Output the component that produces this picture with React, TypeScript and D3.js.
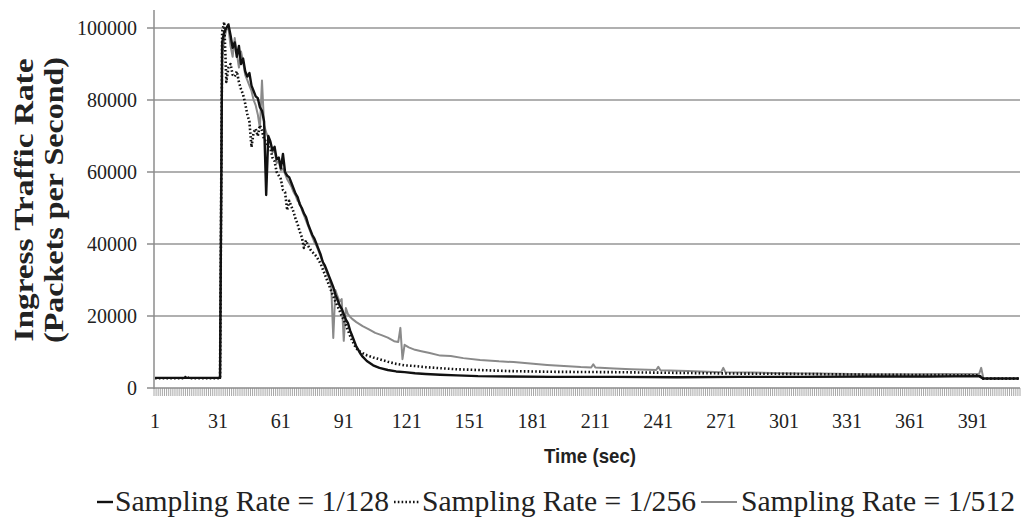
import React from "react";
import * as d3 from "d3";

// seconds (category index) and packets per second
const t128 = [1, 16, 32, 33, 34, 35, 36, 37, 38, 39, 40, 41, 42, 43, 44, 45, 46, 47, 48, 49, 50, 51, 52, 53, 54, 55, 56, 57, 58, 59, 60, 61, 62, 63, 64, 65, 66, 67, 68, 69, 70, 71, 72, 73, 74, 75, 76, 77, 78, 79, 80, 81, 82, 83, 84, 85, 86, 87, 88, 89, 90, 91, 92, 93, 94, 95, 96, 97, 98, 99, 100, 102, 105, 108, 112, 116, 120, 125, 130, 137, 145, 155, 170, 190, 220, 250, 280, 310, 340, 370, 394, 396, 413];
const v128 = [2800, 2800, 2800, 96000, 99000, 100000, 101000, 98000, 94500, 96000, 92000, 95000, 90000, 91500, 88000, 86500, 87500, 84000, 82500, 81000, 80500, 78000, 77000, 74000, 53600, 70000, 68500, 66000, 67000, 63500, 64000, 61000, 65000, 60000, 59000, 58500, 57000, 55500, 54000, 53000, 51000, 50000, 48500, 47500, 45500, 44000, 42500, 41500, 40000, 38500, 37000, 35000, 34000, 32500, 31000, 29500, 28000, 26000, 24500, 23000, 22000, 20500, 19000, 18000, 16000, 14500, 13000, 11500, 10500, 9500, 8700, 7500, 6300, 5600, 5000, 4600, 4400, 4100, 3900, 3700, 3500, 3300, 3200, 3100, 3100, 3000, 3100, 3100, 3200, 3200, 3300, 2600, 2600];

const t256 = [1, 15, 16, 17, 32, 33, 34, 35, 36, 37, 38, 39, 40, 41, 42, 43, 44, 45, 46, 47, 48, 49, 50, 51, 52, 53, 54, 55, 56, 57, 58, 59, 60, 61, 62, 63, 64, 65, 66, 67, 68, 69, 70, 71, 72, 73, 74, 75, 76, 77, 78, 79, 80, 81, 82, 83, 84, 85, 86, 87, 88, 89, 90, 91, 92, 93, 94, 95, 96, 97, 98, 100, 102, 105, 108, 112, 116, 120, 125, 130, 137, 145, 155, 170, 190, 220, 250, 280, 310, 340, 370, 394, 396, 413];
const v256 = [2700, 2700, 3400, 2700, 2700, 99000, 101700, 85000, 89000, 90000, 87000, 86500, 88000, 85000, 83000, 81500, 79000, 76000, 74000, 66900, 71000, 72000, 70000, 73000, 71500, 69000, 68500, 67000, 66500, 64000, 63000, 60000, 59000, 58000, 55000, 54400, 49400, 52000, 50500, 49000, 47000, 45500, 43500, 41900, 38900, 41000, 39500, 38500, 37800, 37200, 36500, 35500, 34500, 33000, 31500, 30000, 28500, 27000, 25500, 24000, 22800, 21500, 20000, 19000, 17500, 16000, 14500, 13200, 12000, 11000, 10400, 9700, 9100, 8500, 8000, 7300, 6700, 6300, 6100, 5800, 5500, 5200, 5000, 4700, 4500, 4400, 4200, 4000, 3900, 3700, 3600, 3500, 2600, 2600];

const t512 = [1, 32, 33, 34, 35, 36, 37, 38, 39, 40, 41, 42, 43, 44, 45, 46, 47, 48, 49, 50, 51, 52, 53, 54, 55, 56, 57, 58, 59, 60, 61, 62, 63, 64, 65, 66, 67, 68, 69, 70, 71, 72, 73, 74, 75, 76, 77, 78, 79, 80, 81, 82, 83, 84, 85, 86, 87, 88, 89, 90, 91, 92, 93, 94, 95, 97, 100, 103, 106, 109, 112, 115, 117, 118, 119, 120, 122, 125, 128, 132, 137, 142, 148, 156, 165, 172, 180, 188, 196, 204, 209, 210, 211, 220, 228, 240, 241, 242, 255, 271, 272, 273, 286, 300, 318, 340, 360, 380, 394, 395, 396, 413];
const v512 = [2800, 2800, 92000, 97000, 99500, 100000, 95000, 92000, 97200, 93000, 89000, 93500, 90500, 87000, 85500, 84000, 82500, 80000, 78500, 76000, 72200, 85400, 73000, 71000, 69500, 68000, 65500, 66000, 62500, 63000, 60500, 61000, 59500, 58000, 57000, 56000, 54500, 53500, 52000, 51500, 49500, 48000, 46500, 45000, 43500, 42000, 40500, 39500, 38000, 36500, 35000, 33500, 32000, 30500, 28500, 13900, 27200, 25500, 24000, 24700, 13100, 22200, 20500, 19800, 19200, 18300, 17200, 16300, 15300, 14700, 14000, 13000, 12800, 16700, 8000, 12000, 11300, 10600, 10200, 9700, 9000, 8900, 8300, 7800, 7400, 7200, 6800, 6400, 6100, 5800, 5700, 6600, 5700, 5400, 5200, 5000, 5900, 4900, 4700, 4400, 5600, 4400, 4300, 4100, 4000, 3800, 3800, 3900, 3900, 5600, 2800, 2800];

const nCategories = 413;
const yTicks = [0, 20000, 40000, 60000, 80000, 100000];
const xTickLabels = [1, 31, 61, 91, 121, 151, 181, 211, 241, 271, 301, 331, 361, 391];
const legendLabels = ["Sampling Rate = 1/128", "Sampling Rate = 1/256", "Sampling Rate = 1/512"];

const serif = "'Liberation Serif', 'Times New Roman', serif";

export default function App() {
  const x = d3.scaleLinear().domain([0.5, nCategories + 0.5]).range([154, 1020]);
  const y = d3.scaleLinear().domain([0, 105000]).range([388, 10]);

  const makePath = (ts: number[], vs: number[]) =>
    d3
      .line<number>()
      .x((d) => x(d))
      .y((d, i) => y(vs[i]))(ts) as string;

  const series = [
    { t: t512, v: v512, color: "#8a8a8a", width: 2, dash: "none" },
    { t: t256, v: v256, color: "#111", width: 2.6, dash: "1.6 2.2" },
    { t: t128, v: v128, color: "#111", width: 2.4, dash: "none" },
  ];

  const boundaries = d3.range(0, nCategories + 1).map((i) => i + 0.5);

  // legend: [line x0, line x1, text x, text length]
  const legendPos = [
    [97, 113, 115, 274],
    [394, 419, 422, 274],
    [701, 737, 741, 274],
  ];
  const legendStyle = [
    { color: "#111", width: 2.4, dash: "none" },
    { color: "#111", width: 2.4, dash: "1.6 2.2" },
    { color: "#8a8a8a", width: 2, dash: "none" },
  ];

  return (
    <svg width={1026} height={520} style={{ position: "absolute", left: 0, top: 0, background: "#fff" }}>
      {/* gridlines */}
      {yTicks.slice(1).map((v) => (
        <line key={v} x1={154} x2={1020} y1={y(v)} y2={y(v)} stroke="#b0b0b0" strokeWidth={2} />
      ))}
      {/* dense category ticks */}
      {boundaries.map((b) => (
        <line key={b} x1={x(b)} x2={x(b)} y1={388} y2={396} stroke="#a8a8a8" strokeWidth={1} />
      ))}
      {/* axes */}
      <line x1={154} x2={154} y1={10} y2={389} stroke="#8c8c8c" strokeWidth={1.5} />
      <line x1={154} x2={1020} y1={388} y2={388} stroke="#8c8c8c" strokeWidth={1.5} />
      {yTicks.map((v) => (
        <g key={v}>
          <line x1={147} x2={154} y1={y(v)} y2={y(v)} stroke="#8c8c8c" strokeWidth={1.5} />
          <text x={137} y={y(v)} dy="0.35em" textAnchor="end" fontFamily={serif} fontSize={20} fill="#222">
            {v}
          </text>
        </g>
      ))}
      {xTickLabels.map((c) => (
        <text key={c} x={x(c)} y={428} textAnchor="middle" fontFamily={serif} fontSize={20} fill="#222">
          {c}
        </text>
      ))}

      {/* series */}
      {series.map((s, i) => (
        <path
          key={i}
          d={makePath(s.t, s.v)}
          fill="none"
          stroke={s.color}
          strokeWidth={s.width}
          strokeDasharray={s.dash}
          strokeLinejoin="round"
        />
      ))}

      {/* axis titles */}
      <text
        x={590}
        y={463}
        textAnchor="middle"
        fontFamily="'Liberation Sans Narrow', 'Liberation Sans', Arial, sans-serif"
        fontWeight="bold"
        fontSize={21}
        fill="#222"
        textLength={92}
        lengthAdjust="spacingAndGlyphs"
      >
        Time (sec)
      </text>
      <g transform="translate(33,200) rotate(-90)">
        <text textAnchor="middle" fontFamily={serif} fontWeight="bold" fontSize={27} fill="#222" textLength={283} lengthAdjust="spacingAndGlyphs">
          Ingress Traffic Rate
        </text>
      </g>
      <g transform="translate(63,200) rotate(-90)">
        <text textAnchor="middle" fontFamily={serif} fontWeight="bold" fontSize={27} fill="#222" textLength={286} lengthAdjust="spacingAndGlyphs">
          (Packets per Second)
        </text>
      </g>

      {/* legend */}
      {legendLabels.map((label, i) => (
        <g key={label}>
          <line
            x1={legendPos[i][0]}
            x2={legendPos[i][1]}
            y1={502}
            y2={502}
            stroke={legendStyle[i].color}
            strokeWidth={legendStyle[i].width}
            strokeDasharray={legendStyle[i].dash}
          />
          <text
            x={legendPos[i][2]}
            y={511}
            fontFamily={serif}
            fontSize={30}
            fill="#222"
            textLength={legendPos[i][3]}
            lengthAdjust="spacingAndGlyphs"
          >
            {label}
          </text>
        </g>
      ))}
    </svg>
  );
}
